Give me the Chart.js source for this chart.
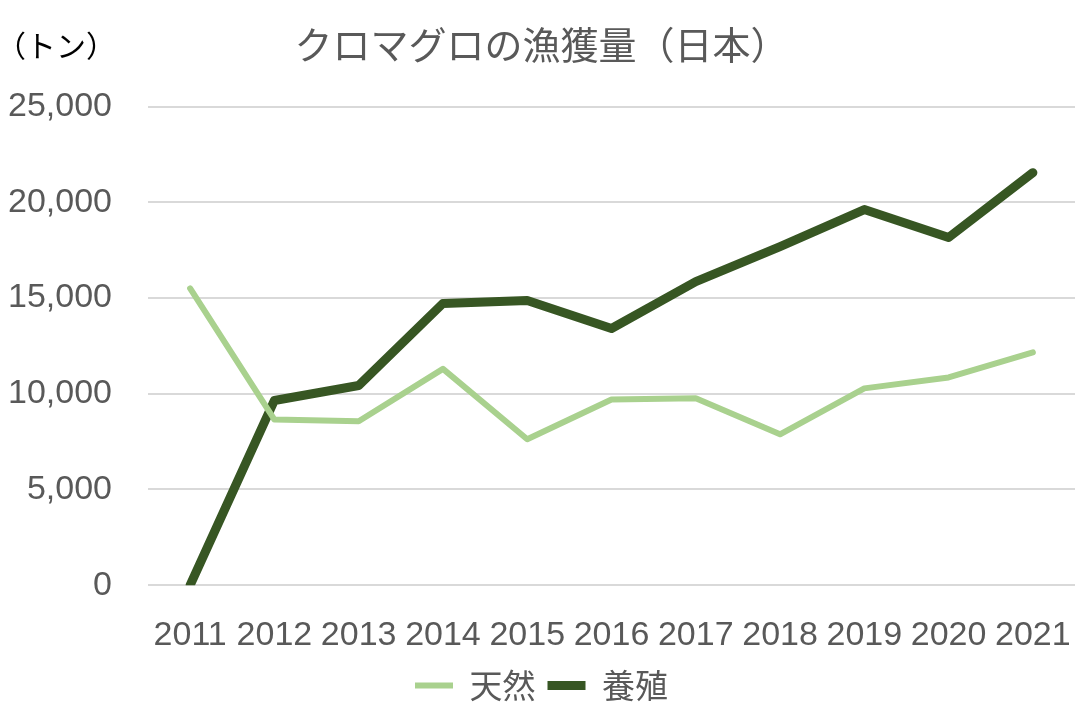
<!DOCTYPE html>
<html lang="ja">
<head>
<meta charset="utf-8">
<script src="https://cdn.jsdelivr.net/npm/chart.js@4/dist/chart.umd.min.js"></script>
<style>
    html, body { margin: 0; padding: 0; background: #fff; }
    #wrap { width: 1081px; height: 720px; }
</style>
</head>
<body>
<div id="wrap"><canvas id="tunaChart"></canvas></div>
<script>
// Data
const years = ['2011', '2012', '2013', '2014', '2015', '2016', '2017', '2018', '2019', '2020', '2021'];
const wildCatch = [15500, 8650, 8560, 11300, 7620, 9700, 9760, 7880, 10280, 10850, 12160];
const farmed = [0, 9650, 10430, 14720, 14870, 13410, 15860, 17690, 19620, 18160, 21550];
const seriesNames = ['天然', '養殖'];

const textGray = '#595959';
const numFont = "'Liberation Sans', Arial, sans-serif";
const jpFont = "'Noto Sans CJK JP', sans-serif";

// Unit label at the top left
const unitLabel = {
    id: 'unitLabel',
    afterDraw(chart) {
        const ctx = chart.ctx;
        ctx.save();
        ctx.font = '30px ' + jpFont;
        ctx.fillStyle = '#000';
        ctx.textAlign = 'left';
        ctx.textBaseline = 'middle';
        ctx.fillText('（トン）', -4, 46);
        ctx.restore();
    }
};

const ctx = document.getElementById('tunaChart').getContext('2d');
new Chart(ctx, {
    type: 'line',
    data: {
        labels: years,
        datasets: [{
            label: seriesNames[0],
            data: wildCatch,
            borderColor: '#a9d18e',
            backgroundColor: '#a9d18e',
            borderWidth: 6,
            pointRadius: 0,
            pointStyle: 'line',
            tension: 0,
            borderCapStyle: 'round',
            borderJoinStyle: 'round'
        }, {
            label: seriesNames[1],
            data: farmed,
            borderColor: '#375623',
            backgroundColor: '#375623',
            borderWidth: 9,
            pointRadius: 0,
            pointStyle: 'line',
            tension: 0,
            borderCapStyle: 'round',
            borderJoinStyle: 'round'
        }]
    },
    options: {
        responsive: true,
        maintainAspectRatio: false,
        animation: false,
        layout: {
            padding: { left: 8, right: 6, top: 0, bottom: 8 }
        },
        plugins: {
            title: {
                display: true,
                text: 'クロマグロの漁獲量（日本）',
                color: textGray,
                font: { family: jpFont, size: 38, weight: 'normal' },
                padding: { top: 22, bottom: 39 }
            },
            legend: {
                position: 'bottom',
                labels: {
                    color: textGray,
                    font: { family: jpFont, size: 33 },
                    usePointStyle: true,
                    pointStyleWidth: 38,
                    boxHeight: 10,
                    padding: 12
                }
            },
            tooltip: { enabled: false }
        },
        scales: {
            x: {
                offset: true,
                grid: { display: false },
                border: { display: false },
                ticks: {
                    color: textGray,
                    font: { family: numFont, size: 34 },
                    maxRotation: 0,
                    autoSkip: false,
                    padding: 22
                },
                afterFit(scale) {
                    scale.height -= 21;
                    scale.paddingLeft = 0;
                    scale.paddingRight = 0;
                }
            },
            y: {
                min: 0,
                max: 25000,
                grid: { color: '#d9d9d9', lineWidth: 2, drawTicks: false },
                border: { display: false },
                ticks: {
                    stepSize: 5000,
                    color: textGray,
                    font: { family: numFont, size: 34 },
                    padding: 36,
                    callback: function(value) {
                        return value.toLocaleString('en-US');
                    }
                },
                afterFit(scale) {
                    scale.width = 140;
                }
            }
        }
    },
    plugins: [unitLabel]
});
</script>
</body>
</html>
